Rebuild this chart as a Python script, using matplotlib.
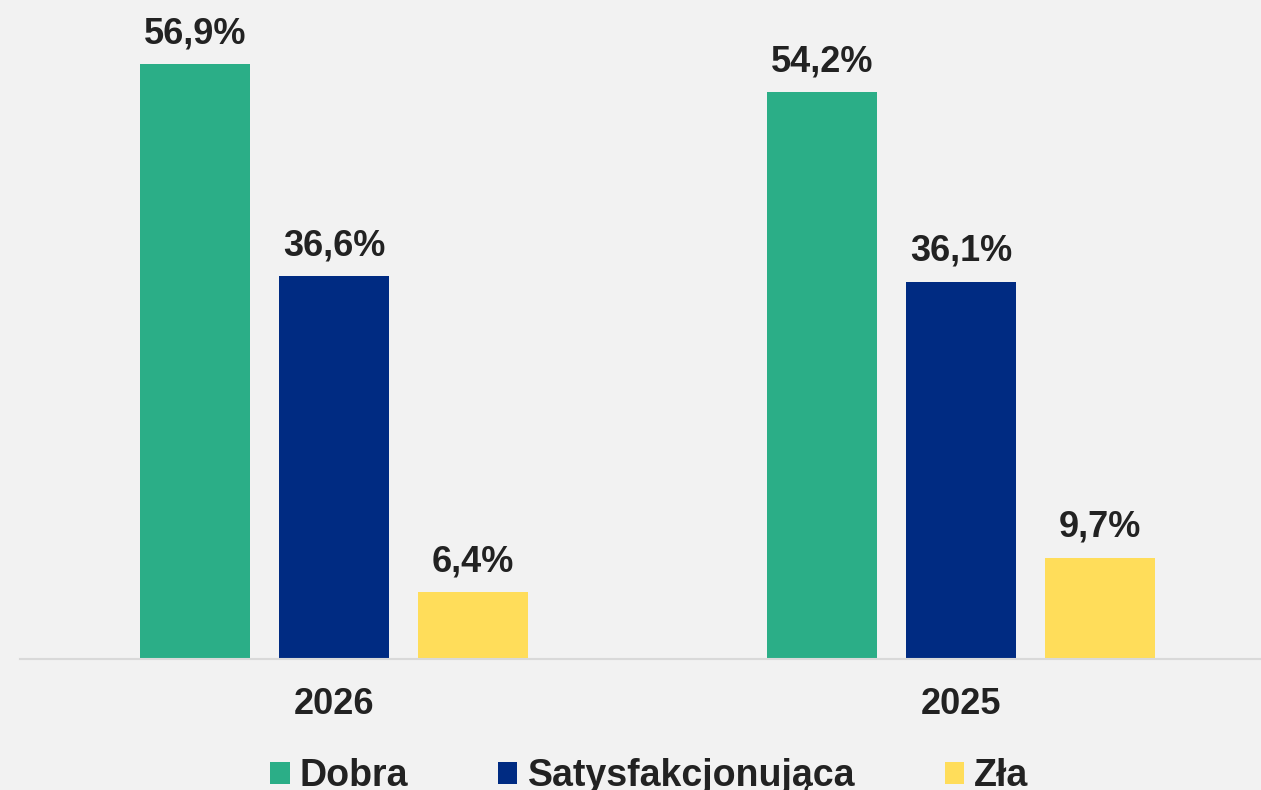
import matplotlib
matplotlib.use("Agg")
import matplotlib.pyplot as plt
from matplotlib.patches import Patch
import numpy as np

years = ["2026", "2025"]
series = ["Dobra", "Satysfakcjonująca", "Zła"]
values = {
    "Dobra": [56.9, 54.2],
    "Satysfakcjonująca": [36.6, 36.1],
    "Zła": [6.4, 9.7],
}
colors = ["#2BAE87", "#002B82", "#FFDD5A"]

plt.rcParams['font.family'] = ['Liberation Sans', 'DejaVu Sans']
bg = "#f2f2f2"
txt = "#222222"

fig = plt.figure(figsize=(12.61, 7.90), dpi=100, facecolor=bg)
ax = fig.add_axes([20/1261, 131/790, 1241/1261, 659/790])
ax.set_facecolor(bg)

x = np.arange(len(years))
w = 110/627
step = 139/627
for i, s in enumerate(series):
    pos = x + (i - 1) * step
    bars = ax.bar(pos, values[s], width=w, color=colors[i], zorder=2)
    for b, v in zip(bars, values[s]):
        ax.annotate(f"{v:.1f}%".replace(".", ","), (b.get_x() + b.get_width()/2, v),
                    xytext=(0, 15), textcoords="offset points", ha="center", va="baseline",
                    fontsize=26, fontweight="bold", color=txt)

ax.set_xlim(-314/627, 1 + (1261-961)/627)
ax.set_ylim(0, 659/10.457)
ax.set_xticks(x)
ax.set_xticklabels(years, fontsize=26, fontweight="bold", color=txt)
ax.tick_params(axis="x", length=0, pad=20.5)
ax.set_yticks([])
for sp in ["top", "right", "left"]:
    ax.spines[sp].set_visible(False)
ax.spines["bottom"].set_color("#d9d9d9")
ax.spines["bottom"].set_linewidth(1.5)

handles = [Patch(facecolor=c, edgecolor="none", label=s) for s, c in zip(series, colors)]
leg = fig.legend(handles=handles, loc="center", bbox_to_anchor=(649.5/1261, 14/790),
                 ncol=3, frameon=False, prop={"size": 27, "weight": "bold"},
                 handlelength=0.51, handleheight=0.51, handletextpad=0.27,
                 columnspacing=2.4, borderpad=0, borderaxespad=0)
for t in leg.get_texts():
    t.set_color(txt)

fig.savefig("out.png", dpi=100, facecolor=bg)
